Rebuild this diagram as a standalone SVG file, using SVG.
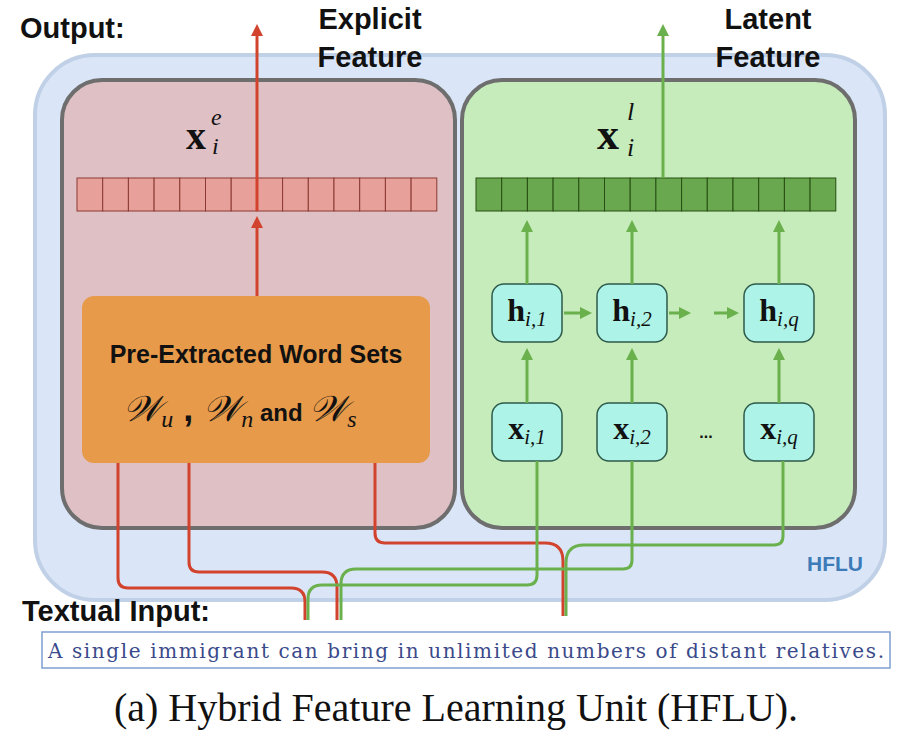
<svg xmlns="http://www.w3.org/2000/svg" width="902" height="738" viewBox="0 0 902 738">
<style>
.b{font-family:"Liberation Sans",Arial,sans-serif;font-weight:bold;fill:#111}
.m{font-family:"Liberation Serif","DejaVu Serif",serif;fill:#111}
.rc{fill:#e8a09a;stroke:#8a3a33;stroke-width:1}
.gc{fill:#6aa84f;stroke:#274e13;stroke-width:1}
.nd{fill:#aef3e8;stroke:#2d5a4a;stroke-width:1.5}
.rl{fill:none;stroke:#d2432e;stroke-width:3}
.gl{fill:none;stroke:#6ab04c;stroke-width:3}
</style>
<defs>
<marker id="ar" viewBox="0 0 10 10" refX="5" refY="5" markerWidth="4" markerHeight="4" orient="auto"><path d="M0,0L10,5L0,10z" fill="#d2432e"/></marker>
<marker id="ag" viewBox="0 0 10 10" refX="5" refY="5" markerWidth="4" markerHeight="4" orient="auto"><path d="M0,0L10,5L0,10z" fill="#6ab04c"/></marker>
</defs>
<rect width="902" height="738" fill="#fff"/>
<g id="hflu"><rect x="35" y="55" width="850" height="545" rx="60" fill="#dae6f7" stroke="#c0d0e6" stroke-width="4"/>
<text x="807" y="571" class="b" font-size="21" style="fill:#3d7ab8">HFLU</text></g>
<g id="explicit"><rect x="62" y="80" width="393" height="448" rx="40" fill="#dfc0c4" stroke="#6e6e6e" stroke-width="4"/>
<text x="186" y="149" class="m" font-size="40" font-weight="bold">x</text><text x="211" y="125" class="m" font-size="24" font-style="italic">e</text><text x="212" y="154" class="m" font-size="24" font-style="italic">i</text></g>
<g id="latent"><rect x="462" y="80" width="393" height="448" rx="40" fill="#c6ecbb" stroke="#6e6e6e" stroke-width="4"/>
<text x="597" y="149" class="m" font-size="44" font-weight="bold">x</text><text x="627" y="120" class="m" font-size="26" font-style="italic">l</text><text x="627" y="156" class="m" font-size="26" font-style="italic">i</text></g>
<g id="vec-e">
<rect class="rc" x="77" y="178" width="25.7" height="33"/><rect class="rc" x="102.7" y="178" width="25.7" height="33"/><rect class="rc" x="128.4" y="178" width="25.7" height="33"/><rect class="rc" x="154.1" y="178" width="25.7" height="33"/><rect class="rc" x="179.8" y="178" width="25.7" height="33"/><rect class="rc" x="205.5" y="178" width="25.7" height="33"/><rect class="rc" x="231.2" y="178" width="25.7" height="33"/><rect class="rc" x="256.9" y="178" width="25.7" height="33"/><rect class="rc" x="282.6" y="178" width="25.7" height="33"/><rect class="rc" x="308.3" y="178" width="25.7" height="33"/><rect class="rc" x="334" y="178" width="25.7" height="33"/><rect class="rc" x="359.7" y="178" width="25.7" height="33"/><rect class="rc" x="385.4" y="178" width="25.7" height="33"/><rect class="rc" x="411.1" y="178" width="25.7" height="33"/></g>
<g id="vec-l">
<rect class="gc" x="476" y="178" width="25.7" height="33"/><rect class="gc" x="501.7" y="178" width="25.7" height="33"/><rect class="gc" x="527.4" y="178" width="25.7" height="33"/><rect class="gc" x="553.1" y="178" width="25.7" height="33"/><rect class="gc" x="578.8" y="178" width="25.7" height="33"/><rect class="gc" x="604.5" y="178" width="25.7" height="33"/><rect class="gc" x="630.2" y="178" width="25.7" height="33"/><rect class="gc" x="655.9" y="178" width="25.7" height="33"/><rect class="gc" x="681.6" y="178" width="25.7" height="33"/><rect class="gc" x="707.3" y="178" width="25.7" height="33"/><rect class="gc" x="733" y="178" width="25.7" height="33"/><rect class="gc" x="758.7" y="178" width="25.7" height="33"/><rect class="gc" x="784.4" y="178" width="25.7" height="33"/><rect class="gc" x="810.1" y="178" width="25.7" height="33"/></g>
<g id="wordsets"><rect x="82" y="296" width="348" height="167" rx="12" fill="#e69a4a"/>
<text x="256" y="363" class="b" font-size="25" text-anchor="middle">Pre-Extracted Word Sets</text>
<text x="240" y="421" text-anchor="middle" font-size="36"><tspan class="m" font-style="italic">𝒲</tspan><tspan class="m" font-size="24" font-style="italic" dy="6">u</tspan><tspan class="b" dy="-6"> , </tspan><tspan class="m" font-style="italic">𝒲</tspan><tspan class="m" font-size="24" font-style="italic" dy="6">n</tspan><tspan class="b" font-size="24" dy="-6"> and </tspan><tspan class="m" font-style="italic">𝒲</tspan><tspan class="m" font-size="24" font-style="italic" dy="6">s</tspan></text></g>
<g id="h1"><rect class="nd" x="492" y="284" width="70" height="58" rx="12"/><text x="527" y="321" class="m" font-size="32" text-anchor="middle"><tspan font-weight="bold">h</tspan><tspan font-size="21" font-style="italic" dy="5">i,1</tspan></text></g>
<g id="h2"><rect class="nd" x="597" y="284" width="70" height="58" rx="12"/><text x="632" y="321" class="m" font-size="32" text-anchor="middle"><tspan font-weight="bold">h</tspan><tspan font-size="21" font-style="italic" dy="5">i,2</tspan></text></g>
<g id="hq"><rect class="nd" x="744" y="284" width="70" height="58" rx="12"/><text x="779" y="321" class="m" font-size="32" text-anchor="middle"><tspan font-weight="bold">h</tspan><tspan font-size="21" font-style="italic" dy="5">i,q</tspan></text></g>
<g id="x1"><rect class="nd" x="492" y="403" width="70" height="58" rx="12"/><text x="527" y="439" class="m" font-size="32" text-anchor="middle"><tspan font-weight="bold">x</tspan><tspan font-size="21" font-style="italic" dy="5">i,1</tspan></text></g>
<g id="x2"><rect class="nd" x="597" y="403" width="70" height="58" rx="12"/><text x="632" y="439" class="m" font-size="32" text-anchor="middle"><tspan font-weight="bold">x</tspan><tspan font-size="21" font-style="italic" dy="5">i,2</tspan></text></g>
<g id="xq"><rect class="nd" x="744" y="403" width="70" height="58" rx="12"/><text x="779" y="439" class="m" font-size="32" text-anchor="middle"><tspan font-weight="bold">x</tspan><tspan font-size="21" font-style="italic" dy="5">i,q</tspan></text></g>
<text x="706" y="438" class="b" font-size="16" text-anchor="middle">...</text>
<g id="connectors">
<path class="rl" d="M257,296V222" marker-end="url(#ar)"/>
<path class="rl" d="M257,211V30" marker-end="url(#ar)"/>
<path class="gl" d="M663,178V30" marker-end="url(#ag)"/>
<path class="gl" d="M527,284V226" marker-end="url(#ag)"/>
<path class="gl" d="M632,284V226" marker-end="url(#ag)"/>
<path class="gl" d="M779,284V226" marker-end="url(#ag)"/>
<path class="gl" d="M527,403V354" marker-end="url(#ag)"/>
<path class="gl" d="M632,403V354" marker-end="url(#ag)"/>
<path class="gl" d="M779,403V354" marker-end="url(#ag)"/>
<path class="gl" d="M564,313H586" marker-end="url(#ag)"/>
<path class="gl" d="M669,313H685" marker-end="url(#ag)"/>
<path class="gl" d="M714,313H733" marker-end="url(#ag)"/>
<path class="rl" d="M118,463V578q0,10 10,10H291q14,0 14,14V620"/>
<path class="rl" d="M189,463V562q0,10 10,10H322q15,0 15,15V620"/>
<path class="rl" d="M375,463V533q0,10 10,10H545q18,0 18,18V616"/>
<path class="gl" d="M537,461V575q0,10 -10,10H322q-14,0 -14,14V620"/>
<path class="gl" d="M632,461V560q0,9 -9,9H356q-15,0 -15,15V620"/>
<path class="gl" d="M783,461V536q0,9 -9,9H584q-18,0 -18,18V616"/>
</g>
<text x="20" y="38" class="b" font-size="29">Output:</text>
<text x="370" y="29" class="b" font-size="29" text-anchor="middle">Explicit</text>
<text x="370" y="67" class="b" font-size="29" text-anchor="middle">Feature</text>
<text x="768" y="29" class="b" font-size="29" text-anchor="middle">Latent</text>
<text x="768" y="67" class="b" font-size="29" text-anchor="middle">Feature</text>
<text x="22" y="621" class="b" font-size="29">Textual Input:</text>
<g id="input"><rect x="42" y="632" width="848" height="36" fill="#fff" stroke="#7f9fd0" stroke-width="1.5"/>
<text x="466" y="658" font-family="DejaVu Serif,serif" font-size="20" fill="#3a4a8a" text-anchor="middle" textLength="836">A single immigrant can bring in unlimited numbers of distant relatives.</text></g>
<text x="456" y="721" font-family="Liberation Serif,serif" font-size="40" fill="#111" text-anchor="middle">(a)  Hybrid Feature Learning Unit (HFLU).</text>
</svg>
